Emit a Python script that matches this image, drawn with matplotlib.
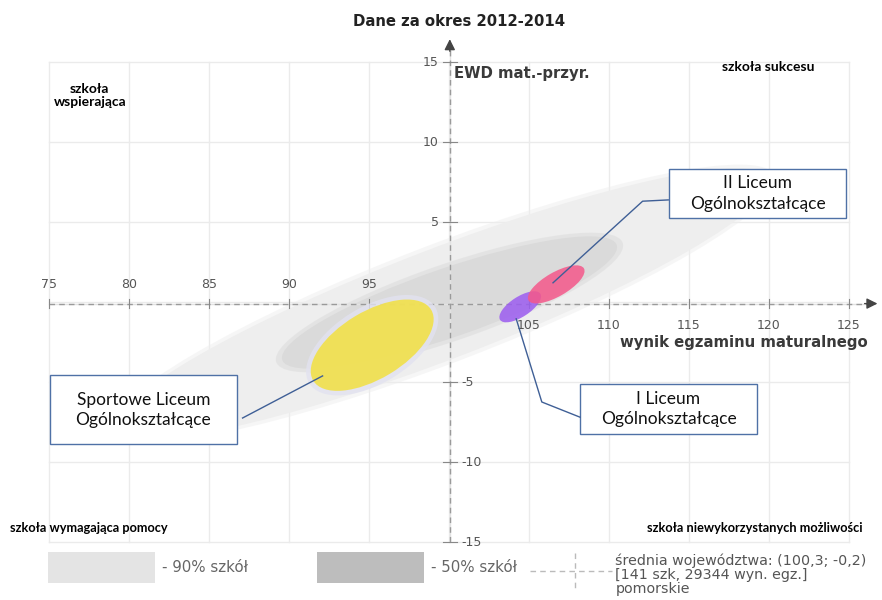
import matplotlib
matplotlib.use("Agg")
import matplotlib.pyplot as plt
from matplotlib.patches import Ellipse, Rectangle

# schools (EWD ellipses)
school_names = ["Sportowe Liceum\nOgólnokształcące", "I Liceum\nOgólnokształcące",
                "II Liceum\nOgólnokształcące"]
school_x = [95.2, 104.45, 106.7]       # wynik egzaminu maturalnego
school_y = [-2.7, -0.3, 1.1]           # EWD mat.-przyr.
school_w = [8.6, 3.0, 4.0]             # ellipse length
school_h = [4.2, 1.25, 1.5]            # ellipse thickness
school_angle = [31, 33, 30]
school_colors = ["#f2e040", "#9c5cf0", "#f4588a"]

# province distribution ellipses (90% / 50% of schools)
dist_labels = ["- 90% szkół", "- 50% szkół"]
dist_x = [99.6, 100.03]
dist_y = [-0.1, -0.03]
dist_w = [43.7, 22.1]
dist_h = [6.9, 4.3]
dist_angle = [21, 19]
dist_colors = ["#eeeeee", "#dadada"]
legend_colors = ["#e4e4e4", "#bdbdbd"]

mean_x, mean_y = 100.3, -0.2
mean_text = "średnia województwa: (100,3; -0,2)\n[141 szk, 29344 wyn. egz.]\npomorskie"

x_ticks = [75, 80, 85, 90, 95, 105, 110, 115, 120, 125]
y_ticks = [15, 10, 5, -5, -10, -15]

fig = plt.figure(figsize=(8.82, 6.0), dpi=100)
ax = fig.add_axes([0, 0, 1, 1])
ax.set_xlim(71.94, 127.06)
ax.set_ylim(-18.625, 18.875)
ax.axis("off")

axis_x, axis_y = 100.05, -0.1

# grid
for gx in range(75, 130, 5):
    ax.plot([gx, gx], [-15, 15], color="#ebebeb", lw=1, zorder=0)
for gy in range(-15, 20, 5):
    ax.plot([75, 125], [gy, gy], color="#ebebeb", lw=1, zorder=0)

# distribution ellipses (soft edge + core)
for i in range(len(dist_x)):
    ax.add_patch(Ellipse((dist_x[i], dist_y[i]), dist_w[i] + 0.8, dist_h[i] + 0.5,
                         angle=dist_angle[i], facecolor=dist_colors[i], edgecolor="none",
                         alpha=0.5, zorder=1))
    ax.add_patch(Ellipse((dist_x[i], dist_y[i]), dist_w[i], dist_h[i], angle=dist_angle[i],
                         facecolor=dist_colors[i], edgecolor="none", zorder=1))

# axes (dashed cross)
ax.plot([75, 126.3], [axis_y, axis_y], color="#e2e2e2", lw=1, zorder=2)
ax.plot([75, 126.3], [axis_y, axis_y], color="#9a9a9a", lw=1, ls=(0, (4, 3)), zorder=2)
ax.plot([axis_x, axis_x], [-15, 16.0], color="#e2e2e2", lw=1, zorder=2)
ax.plot([axis_x, axis_x], [-15, 16.0], color="#9a9a9a", lw=1, ls=(0, (4, 3)), zorder=2)
ax.annotate("", xy=(126.95, axis_y), xytext=(125.8, axis_y),
            arrowprops=dict(arrowstyle="-|>", color="#444444", lw=1, mutation_scale=16), zorder=3)
ax.annotate("", xy=(axis_x, 16.6), xytext=(axis_x, 15.5),
            arrowprops=dict(arrowstyle="-|>", color="#444444", lw=1, mutation_scale=16), zorder=3)

for t in x_ticks:
    ax.plot([t, t], [axis_y - 0.3, axis_y + 0.3], color="#888888", lw=0.8, zorder=2)
    if t < 100:
        ax.text(t, 1.1, str(t), ha="center", va="center", fontsize=9, color="#555555")
    else:
        ax.text(t, -1.45, str(t), ha="center", va="center", fontsize=9, color="#555555")
for t in y_ticks:
    ax.plot([axis_x - 0.45, axis_x + 0.45], [t, t], color="#888888", lw=0.8, zorder=2)
    if t > 0:
        ax.text(axis_x - 0.7, t, str(t), ha="right", va="center", fontsize=9, color="#555555")
    else:
        ax.text(axis_x + 0.7, t, str(t), ha="left", va="center", fontsize=9, color="#555555")

ax.text(100.65, 17.55, "Dane za okres 2012-2014", ha="center", va="center",
        fontsize=10.7, fontweight="bold", color="#222222")
ax.text(100.3, 14.3, "EWD mat.-przyr.", ha="left", va="center",
        fontsize=10.7, fontweight="bold", color="#3a3a3a")
ax.text(126.2, -2.55, "wynik egzaminu maturalnego", ha="right", va="center",
        fontsize=10.7, fontweight="bold", color="#3a3a3a")

# school ellipses
for i in range(len(school_x)):
    if i == 0:
        ax.add_patch(Ellipse((school_x[i], school_y[i]), school_w[i] + 0.6, school_h[i] + 0.6,
                             angle=school_angle[i], facecolor="#e2e2f0", edgecolor="none",
                             alpha=0.8, zorder=3))
    ax.add_patch(Ellipse((school_x[i], school_y[i]), school_w[i], school_h[i],
                         angle=school_angle[i], facecolor=school_colors[i], edgecolor="none",
                         alpha=0.85, zorder=4))

# quadrant labels
qfont = dict(family="Lato", fontweight="bold", color="black")
ax.text(77.55, 12.9, "szkoła\nwspierająca", ha="center", va="center", linespacing=1.15,
        fontsize=10, **qfont)
ax.text(119.95, 14.7, "szkoła sukcesu", ha="center", va="center", fontsize=10, **qfont)
ax.text(72.56, -14.12, "szkoła wymagająca pomocy", ha="left", va="center",
        fontsize=9.2, **qfont)
ax.text(125.87, -14.12, "szkoła niewykorzystanych możliwości", ha="right", va="center",
        fontsize=9.2, **qfont)

# callout boxes: (x0, y0, width, height), leader path (box side -> elbow -> ellipse)
box_pos = [(75.06, -8.875, 11.69, 4.3), (108.19, -8.25, 11.06, 3.12), (113.75, 5.25, 11.06, 3.06)]
leader_x = [[87.1, 92.1], [108.19, 105.8, 104.2], [113.7, 112.1, 106.5]]
leader_y = [[-7.25, -4.62], [-7.2, -6.25, -1.05], [6.38, 6.3, 1.2]]
for i in range(len(school_names)):
    x0, y0, w, h = box_pos[i]
    ax.add_patch(Rectangle((x0, y0), w, h, facecolor="white", edgecolor="#4f71a6",
                           lw=1, zorder=5))
    ax.text(x0 + w / 2, y0 + h / 2, school_names[i], ha="center", va="center",
            family="Lato", fontsize=12.5, color="#111111", linespacing=1.32, zorder=6)
    ax.plot(leader_x[i], leader_y[i], color="#3f5f96", lw=1, zorder=6)

# legend
leg_x = [74.94, 91.75]
for i in range(len(dist_labels)):
    ax.add_patch(Rectangle((leg_x[i], -17.56), 6.7, 1.94, facecolor=legend_colors[i],
                           edgecolor="none"))
    ax.text(leg_x[i] + 7.1, -16.6, dist_labels[i], ha="left", va="center",
            fontsize=10.8, color="#666666")
ax.plot([105.06, 110.19], [-16.81, -16.81], color="#bbbbbb", lw=1, ls=(0, (4, 3)))
ax.plot([107.87, 107.87], [-15.69, -18.0], color="#bbbbbb", lw=1, ls=(0, (4, 3)))
ax.text(110.4, -15.75, mean_text, ha="left", va="top", fontsize=10.3, color="#555555",
        linespacing=1.0)

fig.savefig("out.png", dpi=100)
